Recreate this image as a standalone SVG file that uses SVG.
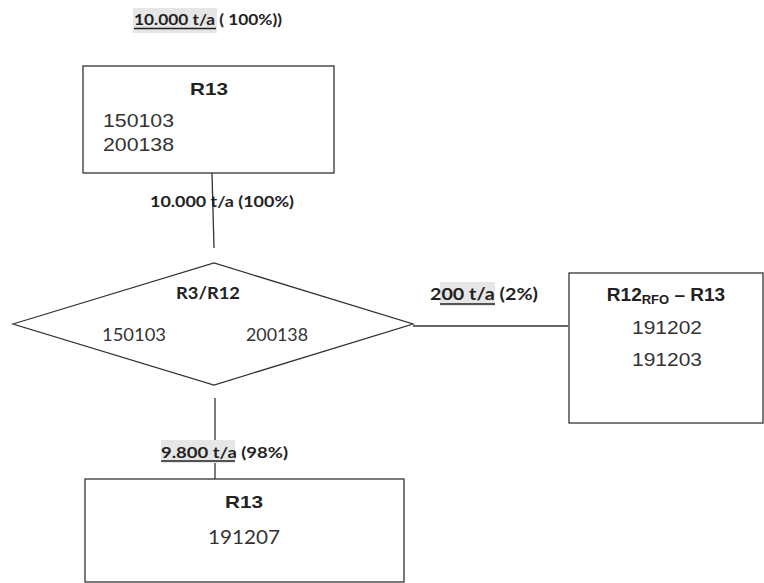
<svg xmlns="http://www.w3.org/2000/svg" width="764" height="583" viewBox="0 0 764 583">
<style>
.box{fill:#fff;stroke:#333;stroke-width:1.3}
.ln{stroke:#333;stroke-width:1.3;fill:none}
.hl{fill:#e6e6e6}
.ul{stroke:#222;stroke-width:1.3}
.t{font-family:"Liberation Sans",Arial,sans-serif;fill:#333}
.b{font-family:"Liberation Sans",Arial,sans-serif;font-weight:bold;fill:#222}
.c{font-family:Lato,"Open Sans",sans-serif;fill:#333}
.cb{font-family:Lato,"Open Sans",sans-serif;font-weight:bold;fill:#222}
</style>
<rect width="764" height="583" fill="#fff"/>
<g id="top-label">
<rect class="hl" x="133" y="8" width="84" height="25"/>
<text class="cb" x="134" y="25" font-size="16" textLength="148" lengthAdjust="spacingAndGlyphs">10.000 t/a ( 100%))</text>
<line class="ul" x1="134" y1="28.5" x2="216" y2="28.5"/>
</g>
<g id="connectors">
<line class="ln" x1="212" y1="173" x2="214" y2="248"/>
<line class="ln" x1="413" y1="326" x2="568" y2="326"/>
<line class="ln" x1="215" y1="398" x2="215" y2="479"/>
</g>
<g id="node-r13-top">
<rect class="box" x="83" y="66" width="251" height="107"/>
<text class="b" x="209" y="95" font-size="17" text-anchor="middle" textLength="38" lengthAdjust="spacingAndGlyphs">R13</text>
<text class="t" x="103" y="127" font-size="19" textLength="71" lengthAdjust="spacingAndGlyphs">150103</text>
<text class="t" x="103" y="151" font-size="19" textLength="71" lengthAdjust="spacingAndGlyphs">200138</text>
</g>
<g id="label-top">
<text class="cb" x="150" y="207" font-size="16" textLength="144" lengthAdjust="spacingAndGlyphs">10.000 t/a  (100%)</text>
</g>
<g id="node-r3r12">
<polygon class="box" points="13,324 214,263 413,324 214,385"/>
<text class="cb" x="208" y="299" font-size="17" text-anchor="middle" textLength="64" lengthAdjust="spacingAndGlyphs">R3/R12</text>
<text class="c" x="102" y="341" font-size="18" textLength="64" lengthAdjust="spacingAndGlyphs">150103</text>
<text class="c" x="246" y="341" font-size="18" textLength="62" lengthAdjust="spacingAndGlyphs">200138</text>
</g>
<g id="label-right">
<rect class="hl" x="440" y="282" width="55" height="24"/>
<text class="cb" x="430" y="300" font-size="17" textLength="108" lengthAdjust="spacingAndGlyphs">200 t/a (2%)</text>
<line class="ul" x1="440" y1="304" x2="495" y2="304"/>
</g>
<g id="node-r12rfo">
<rect class="box" x="569" y="273" width="194" height="150"/>
<text class="b" x="666" y="301" font-size="19" text-anchor="middle">R12<tspan font-size="13" dy="3">RFO</tspan><tspan dy="-3"> – R13</tspan></text>
<text class="t" x="667" y="334" font-size="18" text-anchor="middle" textLength="70" lengthAdjust="spacingAndGlyphs">191202</text>
<text class="t" x="667" y="366" font-size="18" text-anchor="middle" textLength="70" lengthAdjust="spacingAndGlyphs">191203</text>
</g>
<g id="label-bottom">
<rect class="hl" x="161" y="440" width="74" height="23"/>
<text class="cb" x="161" y="458" font-size="16" textLength="127" lengthAdjust="spacingAndGlyphs">9.800 t/a  (98%)</text>
<line class="ul" x1="161" y1="461" x2="235" y2="461"/>
</g>
<g id="node-r13-bottom">
<rect class="box" x="85" y="479" width="319" height="103"/>
<text class="b" x="244" y="508" font-size="17" text-anchor="middle" textLength="38" lengthAdjust="spacingAndGlyphs">R13</text>
<text class="c" x="244" y="544" font-size="20" text-anchor="middle" textLength="72" lengthAdjust="spacingAndGlyphs">191207</text>
</g>
</svg>
